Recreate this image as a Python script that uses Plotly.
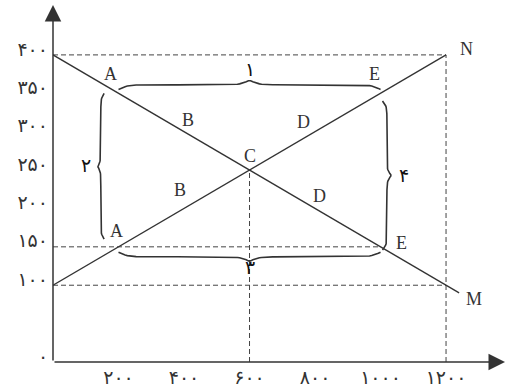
import numpy as np
import plotly.graph_objects as go

# two supply/demand style lines
line1_x = [0, 1240]
line1_y = [400, 90]
line2_x = [0, 1200]
line2_y = [100, 400]

# labelled points
pt_names = ["A", "E", "B", "D", "C", "B", "D", "A", "E", "N", "M"]
pt_x = [200, 1000, 400, 800, 600, 400, 800, 200, 1000, 1200, 1240]
pt_y = [350, 350, 300, 300, 250, 200, 200, 150, 150, 400, 90]

x_ticks = [200, 400, 600, 800, 1000, 1200]
x_labels = ["۲۰۰", "۴۰۰", "۶۰۰", "۸۰۰", "۱۰۰۰", "۱۲۰۰"]
y_ticks = [100, 150, 200, 250, 300, 350, 400]
y_labels = ["۱۰۰", "۱۵۰", "۲۰۰", "۲۵۰", "۳۰۰", "۳۵۰", "۴۰۰"]

ink = "#333333"
serif = "Liberation Serif"
digits = "DejaVu Sans"


def brace(a, b, pos, depth, vertical=False, n=120):
    # curly brace between a and b, bulging by depth towards the tip
    s = np.linspace(0, 1, n)
    u = np.minimum(s, 1 - s)
    q = 28
    off = 0.5 * depth * np.tanh(q * u) + 0.5 * depth * (1 + np.tanh(q * (u - 0.5)))
    along = a + (b - a) * s
    across = pos + off
    if vertical:
        return across, along
    return along, across


fig = go.Figure()

dash = dict(color="#444444", width=1, dash="5px,3px")
fig.add_trace(go.Scatter(x=[0, 1200, None, 0, 1000, None, 0, 1200, None, 600, 600, None, 1200, 1200],
                         y=[400, 400, None, 150, 150, None, 100, 100, None, 0, 250, None, 0, 400],
                         mode="lines", line=dash, hoverinfo="skip"))
fig.add_trace(go.Scatter(x=line1_x, y=line1_y, mode="lines", line=dict(color=ink, width=1.3)))
fig.add_trace(go.Scatter(x=line2_x, y=line2_y, mode="lines", line=dict(color=ink, width=1.3)))

# braces: (start, end, base, depth, vertical, label, label x, label y)
braces = [
    (200, 1000, 355, 12, False, "۱", 600, 382),
    (350, 160, 156, -20, True, "۲", 100, 257),
    (200, 1000, 143, -12, False, "۳", 600, 124),
    (340, 146, 1006, 27, True, "۴", 1072, 243),
]
for a, b, pos, d, vert, lab, lx, ly in braces:
    bx, by = brace(a, b, pos, d, vert)
    fig.add_trace(go.Scatter(x=bx, y=by, mode="lines", line=dict(color=ink, width=1.6),
                             hoverinfo="skip"))
    fig.add_annotation(x=lx, y=ly, text=lab, showarrow=False,
                       font=dict(family=digits, size=19, color="#111111"))

shifts = {"A": (-8, 19), "E": (-6, 19), "B": (4, 12), "D": (-12, 10), "C": (0, 14),
          "N": (20, 6), "M": (15, -6)}
for i, (nm, x, y) in enumerate(zip(pt_names, pt_x, pt_y)):
    sx, sy = shifts[nm]
    if nm == "B" and y < 250:
        sx, sy = -4, 18
    if nm == "D" and y < 250:
        sx, sy = 4, 12
    if nm == "A" and y < 250:
        sx, sy = -2, 16
    if nm == "E" and y < 250:
        sx, sy = 21, 4
    fig.add_annotation(x=x, y=y, text=nm, showarrow=False, xshift=sx, yshift=sy,
                       font=dict(family=serif, size=18, color=ink))

# axes with arrow heads
fig.add_annotation(x=1380, y=0, ax=0, ay=0, axref="x", ayref="y", text="", showarrow=True,
                   arrowhead=2, arrowsize=2.2, arrowwidth=1.5, arrowcolor=ink)
fig.add_annotation(x=0, y=465, ax=0, ay=0, axref="x", ayref="y", text="", showarrow=True,
                   arrowhead=2, arrowsize=2.2, arrowwidth=1.5, arrowcolor=ink)
fig.add_annotation(x=0, y=0, text="۰", showarrow=False, xshift=-10, yshift=6,
                   font=dict(family=digits, size=19, color=ink))

fig.update_traces(cliponaxis=False)
fig.update_layout(
    width=507, height=392, showlegend=False,
    margin=dict(l=53, r=2, t=5, b=30, autoexpand=False),
    plot_bgcolor="white", paper_bgcolor="white",
    xaxis=dict(range=[0, 1380], showgrid=False, zeroline=False, showline=False,
               automargin=False, tickvals=x_ticks, ticktext=x_labels, ticks="",
               ticklabelstandoff=2,
               tickfont=dict(family=digits, size=19, color=ink)),
    yaxis=dict(range=[0, 465], showgrid=False, zeroline=False, showline=False,
               automargin=False, tickvals=y_ticks, ticktext=y_labels, ticks="",
               ticklabelstandoff=4, ticklabelshift=-6,
               tickfont=dict(family=digits, size=19, color=ink)),
)

fig.write_html("out.html", config={"displayModeBar": False},
               post_script="document.body.style.margin='0';")
